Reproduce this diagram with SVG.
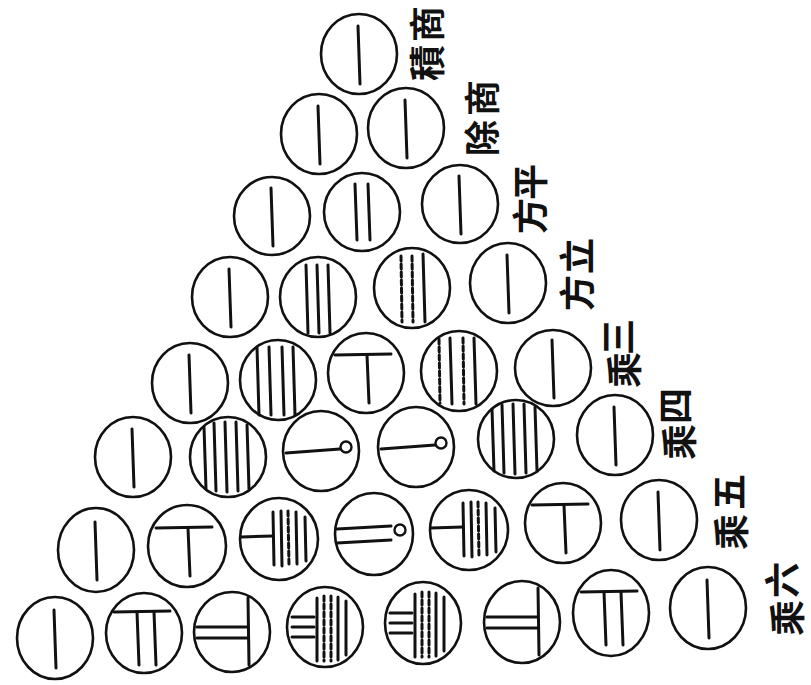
<svg xmlns="http://www.w3.org/2000/svg" xmlns:xlink="http://www.w3.org/1999/xlink" width="811" height="685" viewBox="0 0 811 685">
<style>
.c{fill:none;stroke:#111;stroke-width:2.6}
.r{stroke:#111;stroke-width:3;fill:none;stroke-linecap:round}
.d{stroke-dasharray:5 3}
.z{fill:none;stroke:#111;stroke-width:2.4}
.lb{font-family:"Noto Sans CJK TC","Noto Sans CJK SC",sans-serif;font-size:36px;font-weight:700;fill:#111;text-anchor:middle;dominant-baseline:central}
</style>
<defs>
<g id="n1"><line class="r" x1="-1" y1="-28" x2="1" y2="30"/></g>
<g id="n2"><line class="r" x1="-7" y1="-28" x2="-5" y2="28"/><line class="r" x1="6" y1="-28" x2="8" y2="28"/></g>
<g id="n3"><line class="r" x1="-12" y1="-32" x2="-10" y2="36"/><line class="r" x1="-1" y1="-32" x2="1" y2="36"/><line class="r" x1="10" y1="-32" x2="12" y2="36"/></g>
<g id="n3d"><line class="r d" x1="-11" y1="-32" x2="-10" y2="34"/><line class="r d" x1="0" y1="-32" x2="1" y2="34"/><line class="r" x1="11" y1="-34" x2="13" y2="34"/></g>
<g id="n4"><line class="r" x1="-21" y1="-33" x2="-19" y2="35"/><line class="r" x1="-9" y1="-33" x2="-7" y2="35"/><line class="r" x1="4" y1="-33" x2="6" y2="35"/><line class="r" x1="15" y1="-33" x2="17" y2="35"/></g>
<g id="n4d"><line class="r d" x1="-20" y1="-32" x2="-19" y2="32"/><line class="r" x1="-9" y1="-33" x2="-7" y2="33"/><line class="r d" x1="4" y1="-33" x2="5" y2="33"/><line class="r" x1="15" y1="-33" x2="17" y2="33"/></g>
<g id="n5"><line class="r" x1="-24" y1="-30" x2="-22" y2="32"/><line class="r" x1="-14" y1="-34" x2="-12" y2="34"/><line class="r" x1="-3" y1="-35" x2="-1" y2="35"/><line class="r" x1="8" y1="-35" x2="10" y2="34"/><line class="r" x1="19" y1="-32" x2="21" y2="32"/></g>
<g id="n6"><line class="r" x1="-31" y1="-18" x2="25" y2="-19"/><line class="r" x1="1" y1="-18" x2="3" y2="30"/></g>
<g id="n7"><line class="r" x1="-30" y1="-21" x2="26" y2="-22"/><line class="r" x1="-7" y1="-21" x2="-5" y2="32"/><line class="r" x1="10" y1="-21" x2="12" y2="32"/></g>
<g id="n10"><line class="r" x1="-35" y1="2" x2="19" y2="-2"/><circle class="z" cx="25" cy="-4" r="5.5"/></g>
<g id="n15"><line class="r" x1="-38" y1="-2" x2="-6" y2="-3"/><line class="r" x1="-6" y1="-27" x2="-5" y2="26"/><line class="r" x1="2" y1="-28" x2="3" y2="27"/><line class="r d" x1="9" y1="-28" x2="10" y2="27"/><line class="r" x1="17" y1="-27" x2="18" y2="25"/><line class="r" x1="26" y1="-22" x2="27" y2="22"/></g>
<g id="n20"><line class="r" x1="-37" y1="-5" x2="17" y2="-8"/><line class="r" x1="-37" y1="9" x2="17" y2="6"/><circle class="z" cx="26" cy="-4" r="5.5"/></g>
<g id="n21"><line class="r" x1="-35" y1="-5" x2="16" y2="-5"/><line class="r" x1="-35" y1="6" x2="16" y2="6"/><line class="r" x1="16" y1="-34" x2="17" y2="33"/></g>
<g id="n35"><line class="r" x1="-33" y1="-10" x2="-11" y2="-10"/><line class="r" x1="-33" y1="0" x2="-11" y2="0"/><line class="r" x1="-33" y1="10" x2="-11" y2="10"/><line class="r" x1="-8" y1="-29" x2="-8" y2="34"/><line class="r d" x1="-1" y1="-31" x2="-1" y2="34"/><line class="r d" x1="6" y1="-31" x2="6" y2="34"/><line class="r" x1="13" y1="-30" x2="13" y2="33"/><line class="r" x1="21" y1="-26" x2="21" y2="28"/></g>
</defs>
<rect width="811" height="685" fill="#fff"/>
<g id="connectors"/>
<g id="row1">
<g id="r1c1"><ellipse class="c" cx="359" cy="54" rx="38" ry="40"/><use xlink:href="#n1" x="359" y="54"/></g>
</g>
<g id="row2">
<g id="r2c1"><ellipse class="c" cx="319" cy="134" rx="38" ry="40"/><use xlink:href="#n1" x="319" y="134"/></g>
<g id="r2c2"><ellipse class="c" cx="406" cy="128" rx="38" ry="40"/><use xlink:href="#n1" x="406" y="128"/></g>
</g>
<g id="row3">
<g id="r3c1"><ellipse class="c" cx="272" cy="216" rx="38" ry="39"/><use xlink:href="#n1" x="272" y="216"/></g>
<g id="r3c2"><ellipse class="c" cx="362" cy="212" rx="38" ry="39"/><use xlink:href="#n2" x="362" y="212"/></g>
<g id="r3c3"><ellipse class="c" cx="460" cy="204" rx="38" ry="39"/><use xlink:href="#n1" x="460" y="204"/></g>
</g>
<g id="row4">
<g id="r4c1"><ellipse class="c" cx="230" cy="297" rx="38" ry="40"/><use xlink:href="#n1" x="230" y="297"/></g>
<g id="r4c2"><ellipse class="c" cx="318" cy="297" rx="38" ry="40"/><use xlink:href="#n3" x="318" y="297"/></g>
<g id="r4c3"><ellipse class="c" cx="412" cy="288" rx="38" ry="40"/><use xlink:href="#n3d" x="412" y="288"/></g>
<g id="r4c4"><ellipse class="c" cx="508" cy="283" rx="38" ry="40"/><use xlink:href="#n1" x="508" y="283"/></g>
</g>
<g id="row5">
<g id="r5c1"><ellipse class="c" cx="190" cy="383" rx="38" ry="40"/><use xlink:href="#n1" x="190" y="383"/></g>
<g id="r5c2"><ellipse class="c" cx="278" cy="380" rx="38" ry="40"/><use xlink:href="#n4" x="278" y="380"/></g>
<g id="r5c3"><ellipse class="c" cx="366" cy="373" rx="38" ry="40"/><use xlink:href="#n6" x="366" y="373"/></g>
<g id="r5c4"><ellipse class="c" cx="459" cy="371" rx="38" ry="40"/><use xlink:href="#n4d" x="459" y="371"/></g>
<g id="r5c5"><ellipse class="c" cx="553" cy="368" rx="38" ry="38"/><use xlink:href="#n1" x="553" y="368"/></g>
</g>
<g id="row6">
<g id="r6c1"><ellipse class="c" cx="133" cy="457" rx="38" ry="40"/><use xlink:href="#n1" x="133" y="457"/></g>
<g id="r6c2"><ellipse class="c" cx="228" cy="457" rx="38" ry="40"/><use xlink:href="#n5" x="228" y="457"/></g>
<g id="r6c3"><ellipse class="c" cx="321" cy="451" rx="38" ry="40"/><use xlink:href="#n10" x="321" y="451"/></g>
<g id="r6c4"><ellipse class="c" cx="416" cy="447" rx="38" ry="40"/><use xlink:href="#n10" x="416" y="447"/></g>
<g id="r6c5"><ellipse class="c" cx="516" cy="439" rx="38" ry="39"/><use xlink:href="#n5" x="516" y="439"/></g>
<g id="r6c6"><ellipse class="c" cx="615" cy="435" rx="38" ry="40"/><use xlink:href="#n1" x="615" y="435"/></g>
</g>
<g id="row7">
<g id="r7c1"><ellipse class="c" cx="96" cy="550" rx="38" ry="42"/><use xlink:href="#n1" x="96" y="550"/></g>
<g id="r7c2"><ellipse class="c" cx="187" cy="546" rx="39" ry="41"/><use xlink:href="#n6" x="187" y="546"/></g>
<g id="r7c3"><ellipse class="c" cx="279" cy="539" rx="39" ry="41"/><use xlink:href="#n15" x="279" y="539"/></g>
<g id="r7c4"><ellipse class="c" cx="374" cy="534" rx="39" ry="41"/><use xlink:href="#n20" x="374" y="534"/></g>
<g id="r7c5"><ellipse class="c" cx="469" cy="530" rx="39" ry="40"/><use xlink:href="#n15" x="469" y="530"/></g>
<g id="r7c6"><ellipse class="c" cx="563" cy="523" rx="38" ry="40"/><use xlink:href="#n6" x="563" y="523"/></g>
<g id="r7c7"><ellipse class="c" cx="659" cy="520" rx="38" ry="40"/><use xlink:href="#n1" x="659" y="520"/></g>
</g>
<g id="row8">
<g id="r8c1"><ellipse class="c" cx="55" cy="638" rx="38" ry="41"/><use xlink:href="#n1" x="55" y="638"/></g>
<g id="r8c2"><ellipse class="c" cx="144" cy="633" rx="38" ry="40"/><use xlink:href="#n7" x="144" y="633"/></g>
<g id="r8c3"><ellipse class="c" cx="232" cy="632" rx="38" ry="40"/><use xlink:href="#n21" x="232" y="632"/></g>
<g id="r8c4"><ellipse class="c" cx="325" cy="627" rx="38" ry="40"/><use xlink:href="#n35" x="325" y="627"/></g>
<g id="r8c5"><ellipse class="c" cx="423" cy="623" rx="38" ry="41"/><use xlink:href="#n35" x="423" y="623"/></g>
<g id="r8c6"><ellipse class="c" cx="522" cy="622" rx="38" ry="41"/><use xlink:href="#n21" x="522" y="622"/></g>
<g id="r8c7"><ellipse class="c" cx="611" cy="613" rx="38" ry="43"/><use xlink:href="#n7" x="611" y="613"/></g>
<g id="r8c8"><ellipse class="c" cx="708" cy="608" rx="38" ry="41"/><use xlink:href="#n1" x="708" y="608"/></g>
</g>
<g id="labels">
<text class="lb" transform="translate(425,24) rotate(-90)">商</text>
<text class="lb" transform="translate(425,63) rotate(-90)">積</text>
<text class="lb" transform="translate(480,98) rotate(-90)">商</text>
<text class="lb" transform="translate(480,138) rotate(-90)">除</text>
<text class="lb" transform="translate(528,182) rotate(-90)">平</text>
<text class="lb" transform="translate(528,216) rotate(-90)">方</text>
<text class="lb" transform="translate(575,256) rotate(-90)">立</text>
<text class="lb" transform="translate(575,293) rotate(-90)">方</text>
<text class="lb" transform="translate(616,337) rotate(-90)">三</text>
<text class="lb" transform="translate(622,370) rotate(-90)">乘</text>
<text class="lb" transform="translate(673,406) rotate(-90)">四</text>
<text class="lb" transform="translate(677,442) rotate(-90)">乘</text>
<text class="lb" transform="translate(727,492) rotate(-90)">五</text>
<text class="lb" transform="translate(729,532) rotate(-90)">乘</text>
<text class="lb" transform="translate(780,580) rotate(-90)">六</text>
<text class="lb" transform="translate(785,618) rotate(-90)">乘</text>
</g>
</svg>
